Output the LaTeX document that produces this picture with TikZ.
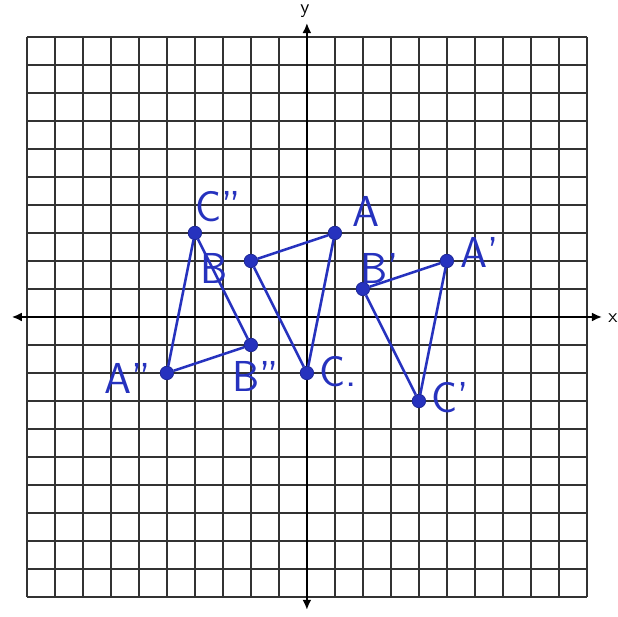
\documentclass[tikz,border=0pt]{standalone}
\usepackage{tikz}
\usetikzlibrary{arrows.meta,positioning}
\definecolor{pen}{RGB}{38,50,190}

\begin{document}
\begin{tikzpicture}[x=0.5cm,y=0.5cm, every node/.style={font=\sffamily\fontsize{22}{22}\selectfont,text=pen,inner sep=0pt},
  dot/.style={circle,fill=pen,draw=pen!80!black,inner sep=0pt,minimum size=2.4mm},
  tri/.style={pen,line width=1.3pt},
  axis/.style={line width=1pt,{Latex[length=1.8mm,width=1.6mm]}-{Latex[length=1.8mm,width=1.6mm]}},
  axlabel/.style={font=\sffamily\normalsize,text=black}]
\useasboundingbox (-10.96,-10.68) rectangle (11.11,11.32);
\draw[black!80,line width=0.7pt,step=0.5cm] (-10,-10) grid (10,10);
\coordinate (xl) at (-10.54,0); \coordinate (xr) at (10.54,0);
\coordinate (yb) at (0,-10.46); \coordinate (yt) at (0,10.5);
\draw[axis] (xl)--(xr); \draw[axis] (yb)--(yt);
\node[axlabel] (xlab) at (10.93,-0.04) {x};
\node[axlabel] (ylab) at (-0.07,10.93) {y};
\node[dot] (A) at (1,3) {};
\node[dot] (B) at (-2,2) {};
\node[dot] (C) at (0,-2) {};
\node[dot] (A1) at (5,2) {};
\node[dot] (B1) at (2,1) {};
\node[dot] (C1) at (4,-3) {};
\node[dot] (A2) at (-5,-2) {};
\node[dot] (B2) at (-2,-1) {};
\node[dot] (C2) at (-4,3) {};
\draw[tri] (A)--(B); \draw[tri] (B)--(C); \draw[tri] (C)--(A);
\draw[tri] (A1)--(B1); \draw[tri] (B1)--(C1); \draw[tri] (C1)--(A1);
\draw[tri] (A2)--(B2); \draw[tri] (B2)--(C2); \draw[tri] (C2)--(A2);
\node (lA) at (2.11,3.75) {A};
\node (lB) at (-3.32,1.75) {B};
\node[anchor=west] (lC) at (0.45,-1.95) {C.};
\node (lA1) at (6.18,2.29) {A'};
\node (lB1) at (2.61,1.75) {B'};
\node (lC1) at (5.11,-2.89) {C'};
\node (lA2) at (-6.39,-2.18) {A''};
\node (lB2) at (-1.82,-2.11) {B''};
\node (lC2) at (-3.18,3.93) {C''};
\end{tikzpicture}
\end{document}
